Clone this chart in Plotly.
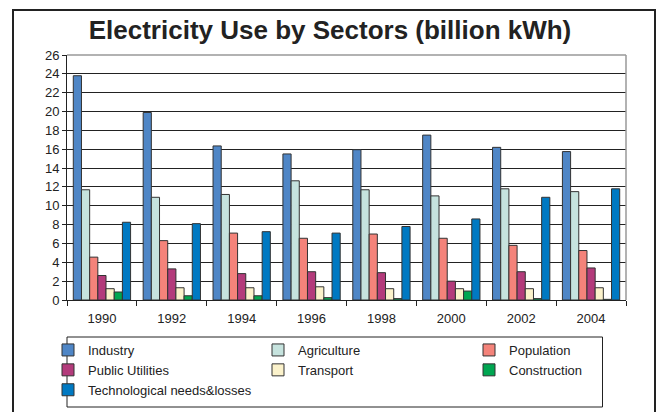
import plotly.graph_objects as go

years = ["1990", "1992", "1994", "1996", "1998", "2000", "2002", "2004"]
industry = [23.8, 19.9, 16.35, 15.5, 15.95, 17.5, 16.2, 15.75]
agriculture = [11.7, 10.9, 11.2, 12.65, 11.7, 11.05, 11.8, 11.5]
population = [4.55, 6.3, 7.1, 6.55, 7.0, 6.55, 5.8, 5.25]
public_utilities = [2.6, 3.3, 2.8, 3.0, 2.9, 2.0, 3.0, 3.4]
transport = [1.2, 1.3, 1.3, 1.4, 1.2, 1.2, 1.2, 1.3]
construction = [0.85, 0.45, 0.45, 0.25, 0.15, 0.95, 0.15, 0.07]
tech_losses = [8.25, 8.1, 7.25, 7.1, 7.8, 8.6, 10.9, 11.8]

# name, values, colour, legend column
series = [
    ("Industry", industry, "#4F86C6", "legend"),
    ("Agriculture", agriculture, "#C6E3DE", "legend2"),
    ("Population", population, "#F4837A", "legend3"),
    ("Public Utilities", public_utilities, "#B33B7B", "legend"),
    ("Transport", transport, "#FBF2CB", "legend2"),
    ("Construction", construction, "#00A651", "legend3"),
    ("Technological needs&losses", tech_losses, "#0079C2", "legend"),
]

W, H = 660, 412
L, R, T, B = 67, 626, 55, 300
pw, ph = R - L, B - T

def px(x):
    return (x - L) / pw

def py(y):
    return (B - y) / ph

fig = go.Figure()
for name, vals, col, leg in series:
    fig.add_trace(go.Bar(
        x=years, y=vals, name=name, legend=leg, legendgroup=name,
        marker=dict(color=col, line=dict(color="#333333", width=1)),
    ))

legend_common = dict(orientation="v", yanchor="top", xanchor="left",
                     bgcolor="rgba(0,0,0,0)", borderwidth=0, itemwidth=30,
                     tracegroupgap=4.5, traceorder="normal",
                     font=dict(size=13, color="#222222"))

fig.update_layout(
    width=W, height=H,
    margin=dict(l=L, r=W - R, t=T, b=H - B, pad=0, autoexpand=False),
    paper_bgcolor="white", plot_bgcolor="white",
    barmode="group", bargap=0.18, bargroupgap=0,
    font=dict(family="Liberation Sans, Arial, sans-serif", size=13, color="#222222"),
    title=dict(text="<b>Electricity Use by Sectors (billion kWh)</b>",
               x=0.5, xanchor="center", y=1 - 30 / H, yanchor="middle",
               font=dict(size=26, color="#222222")),
    xaxis=dict(type="category", showline=True, linecolor="#222222", linewidth=1,
               ticks="outside", tickson="boundaries", ticklen=5, tickcolor="#222222",
               showgrid=False, tickfont=dict(size=13), ticklabelstandoff=6),
    yaxis=dict(range=[0, 26], dtick=2, showline=True, linecolor="#222222", linewidth=1,
               ticks="outside", ticklen=4, tickcolor="#222222",
               showgrid=True, gridcolor="#222222", gridwidth=1,
               zeroline=False, tickfont=dict(size=13)),
    legend=dict(legend_common, x=px(48), y=py(335)),
    legend2=dict(legend_common, x=px(258), y=py(335)),
    legend3=dict(legend_common, x=px(469), y=py(335)),
    showlegend=True,
    shapes=[
        dict(type="line", xref="paper", yref="paper", x0=0, x1=1, y0=1, y1=1,
             line=dict(color="#999999", width=1.5), layer="above"),
        dict(type="line", xref="paper", yref="paper", x0=1, x1=1, y0=0, y1=1,
             line=dict(color="#999999", width=1.5), layer="above"),
        dict(type="rect", xref="paper", yref="paper", x0=px(67), x1=px(602.5),
             y0=py(407), y1=py(337), line=dict(color="#222222", width=1)),
        dict(type="rect", xref="paper", yref="paper", x0=px(13), x1=px(655),
             y0=py(420), y1=py(10), line=dict(color="#222222", width=2)),
    ],
)

fig.write_html("out.html")
